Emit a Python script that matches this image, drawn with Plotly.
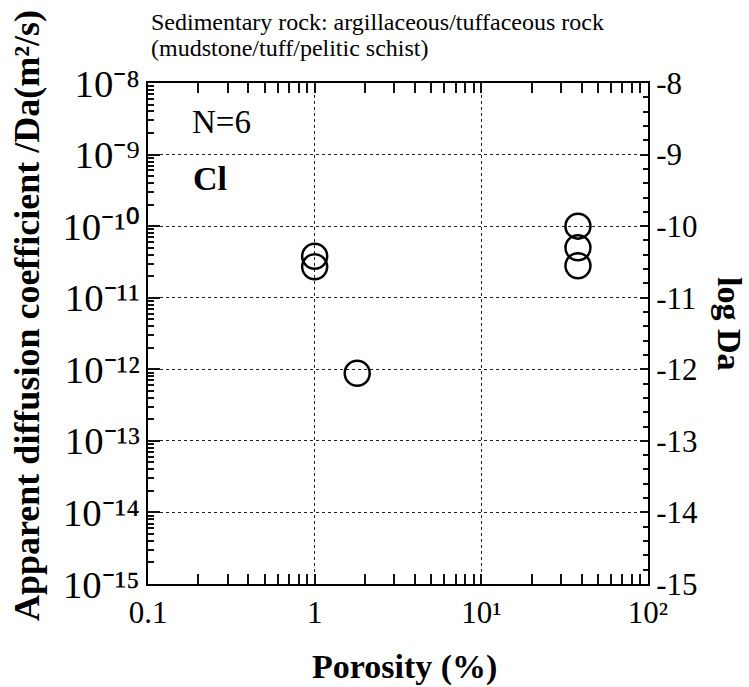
import numpy as np
import plotly.graph_objects as go

# Measured samples: porosity (%) and apparent diffusion coefficient of Cl (m2/s)
porosity = [1.0, 1.0, 1.8, 38.0, 38.0, 38.0]
da_values = [3.8e-11, 2.7e-11, 8.8e-13, 1.0e-10, 5.0e-11, 2.8e-11]

y_exponents = [-8, -9, -10, -11, -12, -13, -14, -15]

FONT = "Liberation Serif"
W, H = 749, 687
L, R, T, B = 148, 101, 83, 103
PW, PH = W - L - R, H - T - B
MINUS = "\u2212"
SUP = str.maketrans("0123456789-", "\u2070\u00b9\u00b2\u00b3\u2074\u2075\u2076\u2077\u2078\u2079\u207b")


def px_x(x):
    return (x - L) / PW


def px_y(y):
    return (H - B - y) / PH


def power_label(e):
    return "10" + str(e).translate(SUP)


# label text: 10 -> 10^1, 100 -> 10^2; plain hyphen in the exponents
x_alias = {"10": power_label(1), "100": power_label(2)}
y_alias = {"10<sup>%s%d</sup>" % (MINUS, -e): power_label(e) for e in y_exponents}
y2_alias = {"%s%d" % (MINUS, -e): "-%d" % -e for e in y_exponents}

fig = go.Figure()
fig.add_trace(go.Scatter(
    x=porosity, y=da_values, mode="markers",
    marker=dict(symbol="circle-open", size=25, color="black",
                line=dict(width=2.5)),
))
# same samples on the log Da scale (right axis)
fig.add_trace(go.Scatter(
    x=porosity, y=np.log10(da_values), yaxis="y2", mode="markers",
    marker=dict(opacity=0),
))

TICK = "#111111"
fig.update_layout(
    width=W, height=H,
    margin=dict(l=L, r=R, t=T, b=B),
    font=dict(family=FONT, size=31, color="black"),
    plot_bgcolor="white", showlegend=False,
    xaxis=dict(
        type="log", range=[-1, 2], dtick=1, labelalias=x_alias,
        ticks="inside", ticklen=10, tickwidth=2, tickcolor=TICK,
        showline=True, linecolor="black", linewidth=2, mirror="allticks",
        showgrid=True, griddash="dot", gridcolor="#222",
        minor=dict(dtick="D1", ticks="inside", ticklen=6, tickwidth=2,
                   tickcolor=TICK),
    ),
    yaxis=dict(
        type="log", range=[-15, -8], dtick=1, exponentformat="power",
        labelalias=y_alias,
        ticks="inside", ticklen=12, tickwidth=2, tickcolor=TICK,
        showline=True, linecolor="black", linewidth=2, mirror=True,
        showgrid=True, griddash="dot", gridcolor="#222",
        minor=dict(dtick="D1", ticks="inside", ticklen=6, tickwidth=2,
                   tickcolor=TICK),
    ),
    yaxis2=dict(
        range=[-15, -8], dtick=1, overlaying="y", side="right",
        labelalias=y2_alias, showgrid=False,
        ticks="inside", ticklen=8, tickwidth=2, tickcolor=TICK,
        showline=True, linecolor="black", linewidth=2,
        minor=dict(dtick=0.2, ticks="inside", ticklen=5, tickwidth=2,
                   tickcolor=TICK),
    ),
)

annotations = [
    dict(text="Sedimentary rock: argillaceous/tuffaceous rock",
         x=px_x(149), y=px_y(22), xanchor="left", size=24),
    dict(text="(mudstone/tuff/pelitic schist)",
         x=px_x(149), y=px_y(48), xanchor="left", size=24),
    dict(text="N=6", x=px_x(190), y=px_y(122), xanchor="left", size=33),
    dict(text="<b>Cl</b>", x=px_x(191), y=px_y(178), xanchor="left", size=34),
    dict(text="<b>Porosity (%)</b>", x=px_x(404), y=px_y(667),
         xanchor="center", size=34),
    dict(text="<b>Apparent diffusion coefficient /Da(m\u00b2/s)</b>",
         x=px_x(27), y=px_y(316), xanchor="center", textangle=-90, size=36),
    dict(text="<b>log Da</b>", x=px_x(730), y=px_y(324), xanchor="center",
         textangle=90, size=34),
]
for a in annotations:
    size = a.pop("size")
    fig.add_annotation(xref="paper", yref="paper", yanchor="middle",
                       showarrow=False, font=dict(family=FONT, size=size), **a)

fig.write_html("out.html")
